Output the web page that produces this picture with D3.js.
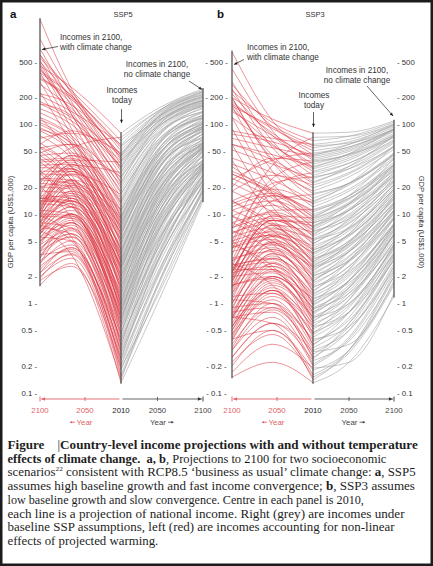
<!DOCTYPE html>
<html>
<head>
<meta charset="utf-8">
<script src="https://cdn.jsdelivr.net/npm/d3@7"></script>
<style>
html, body { margin: 0; padding: 0; background: #fff; }
svg { display: block; }
</style>
</head>
<body>
<script>
// Income per capita in 2010 (US$1,000), one entry per country (centre axis)
var income2010 = [
  0.13,0.15,0.16,0.18,0.2,0.21,0.23,0.25,0.27,0.3,
  0.32,0.35,0.38,0.42,0.45,0.48,0.52,0.56,0.6,0.64,
  0.68,0.72,0.76,0.8,0.85,0.9,0.95,0.98,1.05,1.1,
  1.2,1.25,1.3,1.4,1.5,1.6,1.7,1.8,1.9,2.0,
  2.1,2.2,2.4,2.5,2.6,2.7,2.8,2.95,3.1,3.3,
  3.5,3.7,3.9,4.1,4.4,4.7,5.0,5.3,5.6,6.0,
  6.3,6.7,7.0,7.4,7.8,8.2,8.6,9.0,9.4,9.8,
  10.5,11.2,12,13,14,15,16.5,18,19.5,21,
  23,25,27,29,30,32,34,36,38,40,
  42,44,46,48,51,55,60,66,72,80,
  0.14,0.19,0.24,0.29,0.34,0.4,0.46,0.55,0.62,0.7,
  0.78,0.88,1.0,1.15,1.35,1.55,1.75,2.05,2.3,2.55,
  2.9,3.2,3.6,4.0,4.6,5.2,5.8,6.5,7.2,8.0,
  9.0,11,13.5,17,22,26,33,39,45,58
];

// SSP5, no climate change (grey)
var ssp5Base2050 = [
  1.0,1.3,1.5,1.6,1.9,2.1,2.0,2.5,2.8,2.9,
  3.3,3.6,3.4,4.0,4.5,4.2,4.8,5.5,5.2,6.0,
  6.5,6.2,7.0,7.0,7.8,7.5,8.5,8.8,9.0,10,
  10,11,11,12,12,13,13,14,14,15,
  16,16,17,18,19,18,20,21,21,23,
  24,24,26,27,27,30,32,31,34,36,
  35,38,39,39,42,44,45,45,48,49,
  52,52,57,59,62,66,66,72,76,78,
  84,88,92,92,97,100,104,107,106,112,
  115,118,120,120,125,130,133,140,140,150,
  1.6,1.2,3.0,2.2,4.5,3.0,6.0,4.0,8.0,5.0,
  9.5,6.5,12,8.0,15,10,17,12,22,15,
  26,18,30,22,36,26,42,32,50,36,
  58,46,72,62,95,80,120,95,135,110
];
var ssp5Base2100 = [
  14,16,18,15,19,22,17,21,24,20,
  28,23,26,34,24,30,22,36,27,32,
  33,31,35,33,36,34,37,38,36,40,
  46,36,52,40,48,38,56,44,50,58,
  54,52,53,56,58,55,60,62,60,64,
  74,58,78,66,62,84,72,90,70,95,
  84,90,92,90,96,100,102,100,108,110,
  120,104,128,116,140,126,118,155,138,165,
  160,165,172,168,178,182,186,190,185,196,
  200,205,208,205,215,222,228,235,232,250,
  19,15,28,18,32,21,38,24,45,26,
  50,30,55,34,62,40,70,44,80,50,
  88,56,95,62,105,68,115,78,125,84,
  135,95,150,120,185,140,215,160,240,175
];

// SSP5, with climate change (red)
var ssp5Clim2065 = [
  2.8,3.2,3.8,3.5,4.0,5.0,3.6,4.5,6.0,4.2,
  5.5,7.0,5.0,6.0,9.0,5.6,6.5,9.0,6.0,7.5,
  10,7.0,13,8.0,12,8.5,9.5,13,9.0,14,
  10,18,10,15,11,20,12,17,12,13,
  24,19,14,20,27,14,22,45,15,24,
  33,16,27,60,17,30,42,18,32,75,
  20,50,36,21,55,90,40,22,60,42,
  65,24,110,48,75,130,28,85,140,60,
  160,100,180,35,170,150,110,200,40,210,
  190,120,250,80,230,210,140,240,55,260,
  3.5,2.6,5.5,4.2,8,5,10,6.8,12,8,
  15,9.5,18,14,21,14,24,16,28,24,
  30,23,32,34,34,32,36,38,70,30,
  60,62,45,130,125,45,220,85,165,200
];
var ssp5Clim2100 = [
  1.6,2.0,3.5,2.2,2.6,5.5,1.9,3.0,7.0,2.4,
  3.8,8.0,2.8,4.2,20,3.3,4.5,9.5,3.5,5.0,
  11,4.0,28,5.5,13,4.8,6.5,14,5.0,15,
  6.0,38,5.5,16,6.5,42,7.0,18,6.0,8.0,
  50,20,7.5,22,55,8.5,24,120,7.0,25,
  62,9.0,28,230,8.0,30,75,10,33,300,
  9.5,85,35,11,92,380,38,12,100,40,
  105,13,450,45,120,520,15,135,420,55,
  600,150,700,18,350,280,170,500,20,400,
  320,180,1500,70,600,380,210,550,30,450,
  6.5,1.8,9.5,2.2,3.8,7.5,4.5,2.8,15,3.2,
  6,10,7,30,8,14,9,15,10,45,
  11,20,12,56,11,24,13,28,112,10,
  48,88,16,480,170,22,900,60,220,330
];

// SSP3, no climate change (grey)
var ssp3Base2050 = [
  0.22,0.28,0.3,0.3,0.4,0.42,0.38,0.5,0.55,0.5,
  0.6,0.7,0.65,0.8,0.9,0.8,0.95,1.1,1.0,1.2,
  1.3,1.2,1.5,1.4,1.6,1.5,1.8,1.8,1.8,2.0,
  2.1,2.4,2.2,2.6,2.6,3.0,2.9,3.3,3.1,3.4,
  3.8,3.8,4.0,4.3,4.6,4.4,4.8,5.0,5.0,5.6,
  6.0,5.8,6.5,7.0,6.8,7.8,8.4,8.0,9.2,10,
  9.6,11,11.5,11,12.5,13,13.5,13,14.5,15,
  16,16,18,19,21,22,22,26,28,29,
  32,34,37,37,40,42,44,47,46,50,
  52,54,56,56,60,64,68,74,74,82,
  0.3,0.22,0.6,0.35,0.8,0.55,1.1,0.8,1.5,1.0,
  1.8,1.3,2.4,1.7,3.0,2.3,3.8,3.0,4.8,3.8,
  6.0,4.6,7.2,5.8,8.8,7.0,11,8.8,13,11,
  16,15,22,22,34,32,47,46,60,62
];
var ssp3Base2100 = [
  1.2,1.6,2.0,1.7,2.3,2.6,2.0,2.8,3.2,2.6,
  3.4,3.8,3.1,4.1,4.6,3.6,4.4,5.0,4.2,5.4,
  5.8,4.9,6.4,5.8,6.6,5.9,7.0,7.4,6.8,7.8,
  7.6,8.8,7.9,9.4,9.0,10.5,10,11,10.2,11,
  12,12,12.5,13.5,14.5,13.5,15,16,15,17,
  18,17,19,20,19,21,23,21,24,26,
  24,28,29,27,31,32,33,31,35,36,
  38,36,41,43,46,48,47,53,56,58,
  62,64,68,66,72,74,76,80,77,84,
  86,88,90,88,94,97,100,106,102,110,
  2.2,1.3,3.5,1.8,4.5,2.4,6.0,3.0,7.5,3.6,
  9.0,4.6,11,6.0,13,7.5,16,9.0,19,11,
  22,13,26,16,30,19,36,23,42,27,
  48,34,58,45,75,56,90,72,100,88
];

// SSP3, with climate change (red)
var ssp3Clim2055 = [
  0.22,0.45,0.5,0.5,0.7,0.8,0.6,0.9,1.0,0.85,
  1.1,1.3,1.0,1.4,1.6,1.2,1.5,1.9,1.4,1.8,
  2.2,1.7,2.6,2.0,2.6,2.0,2.4,2.9,2.3,3.1,
  2.6,3.8,2.8,3.8,3.2,4.6,3.6,4.6,3.6,4.0,
  5.6,5.2,4.5,5.8,6.5,4.8,6.3,9,5.0,7.0,
  8.0,5.6,7.8,12,6.0,9.0,10.5,6.8,10,17,
  7.5,13,12.5,8.5,15,22,14,9.5,17,16,
  19,11,30,19,24,38,14,29,45,27,
  55,36,65,20,60,58,46,75,25,80,
  75,55,110,40,95,90,70,105,35,115,
  0.6,0.35,1.0,0.6,1.4,0.9,1.9,1.3,2.4,1.6,
  2.8,2.0,3.4,2.4,4.0,3.2,4.8,4.2,5.6,5.0,
  6.5,5.8,7.5,7.5,8.5,8.5,9.5,10.5,16,8.5,
  17,18,16,40,40,22,85,42,64,95
];
var ssp3Clim2100 = [
  0.15,0.22,0.4,0.2,0.3,0.7,0.25,0.35,0.9,0.3,
  0.45,1.2,0.32,0.5,2.8,0.4,0.55,1.6,0.42,0.6,
  2.0,0.5,4.5,0.7,2.2,0.55,0.8,2.5,0.65,2.7,
  0.75,6.5,0.7,3.2,0.9,8.0,1.0,3.8,0.85,1.2,
  9.5,4.2,1.1,4.6,11,1.4,5.0,40,1.3,5.5,
  14,1.6,6.2,60,1.5,7.0,18,1.8,8.0,90,
  1.7,22,9.5,2.2,25,120,11,2.0,28,12,
  30,2.6,160,14,36,200,3.0,42,170,18,
  250,52,300,4.0,150,120,60,220,5.0,180,
  140,70,650,24,280,170,85,240,7.0,200,
  0.7,0.17,1.1,0.25,0.55,0.8,0.7,0.38,2.4,0.45,
  1.0,1.6,1.3,5.0,1.5,2.6,1.8,3.0,2.0,9.5,
  1.9,4.2,2.4,14,2.2,6.0,2.8,7.0,34,2.3,
  13,28,3.5,200,60,4.5,420,20,78,160
];

var yTickValues = [0.1, 0.2, 0.5, 1, 2, 5, 10, 20, 50, 100, 200, 500];
var yearTicks = [2010, 2050, 2100];

var red = "#da3641";
var redAxis = "#e2606a";
var grey = "#9f9f9f";
var ink = "#333";
var sans = "'Liberation Sans', Arial, sans-serif";

var svg = d3.select("body").append("svg")
    .attr("width", 433)
    .attr("height", 566);

svg.append("rect")
    .attr("x", 1.25).attr("y", 1.25)
    .attr("width", 430.5).attr("height", 563.5)
    .attr("fill", "#fff")
    .attr("stroke", "#1c1c1c")
    .attr("stroke-width", 2.5);

var y = d3.scaleLog().domain([0.1, 1000]).range([393, 35]);

var line = d3.line()
    .x(function(d) { return d[0]; })
    .y(function(d) { return d[1]; })
    .curve(d3.curveMonotoneX);

var panels = [
    {letter: "a", title: "SSP5", left: 40, mid: 121, right: 203,
     base50: ssp5Base2050, base100: ssp5Base2100,
     climMid: ssp5Clim2065, climYear: 2065, clim100: ssp5Clim2100},
    {letter: "b", title: "SSP3", left: 232, mid: 313, right: 394,
     base50: ssp3Base2050, base100: ssp3Base2100,
     climMid: ssp3Clim2055, climYear: 2055, clim100: ssp3Clim2100}
];

function arrowHead(g, x, yy, dir, color, size) {
    // small filled triangle, tip at (x, yy), pointing along dir (degrees)
    var s = size || 3.2;
    g.append("path")
        .attr("d", "M0,0 L" + (-s * 1.5) + "," + (-s * 0.7) + " L" + (-s * 1.5) + "," + (s * 0.7) + "Z")
        .attr("transform", "translate(" + x + "," + yy + ") rotate(" + dir + ")")
        .attr("fill", color);
}

panels.forEach(function(p) {
    var xr = d3.scaleLinear().domain([2010, 2100]).range([p.mid, p.left]);
    var xg = d3.scaleLinear().domain([2010, 2100]).range([p.mid, p.right]);
    var g = svg.append("g");

    // grey lines: baseline projections
    g.append("g").selectAll("path")
        .data(income2010)
        .enter()
        .append("path")
        .attr("d", function(d, i) {
            return line([[xg(2010), y(d)], [xg(2050), y(p.base50[i])], [xg(2100), y(p.base100[i])]]);
        })
        .attr("fill", "none")
        .attr("stroke", grey)
        .attr("stroke-opacity", 0.75)
        .attr("stroke-width", 0.75);

    // red lines: with climate change
    g.append("g").selectAll("path")
        .data(income2010)
        .enter()
        .append("path")
        .attr("d", function(d, i) {
            return line([[xr(2100), y(p.clim100[i])], [xr(p.climYear), y(p.climMid[i])], [xr(2010), y(d)]]);
        })
        .attr("fill", "none")
        .attr("stroke", red)
        .attr("stroke-opacity", 0.7)
        .attr("stroke-width", 0.75);

    // vertical axes spanning the data
    var ext = [d3.extent(p.clim100), d3.extent(income2010), d3.extent(p.base100)];
    [p.left, p.mid, p.right].forEach(function(xx, k) {
        g.append("line")
            .attr("x1", xx).attr("x2", xx)
            .attr("y1", y(ext[k][1]) - 1).attr("y2", y(ext[k][0]) + 1)
            .attr("stroke", "#555")
            .attr("stroke-width", 1.3);
    });

    // panel letter and scenario title
    g.append("text")
        .attr("x", p.letter == "a" ? 10 : 217).attr("y", 18)
        .attr("font-family", sans).attr("font-weight", "bold")
        .attr("font-size", "11.5px").attr("fill", "#111")
        .text(p.letter);
    g.append("text")
        .attr("x", p.mid + 2).attr("y", 17)
        .attr("text-anchor", "middle")
        .attr("font-family", sans).attr("font-size", "7.5px").attr("fill", ink)
        .text(p.title);

    // bottom year axis
    var ay = 399;
    g.append("line").attr("x1", p.left + 1).attr("x2", p.mid - 1.5)
        .attr("y1", ay).attr("y2", ay).attr("stroke", redAxis).attr("stroke-width", 0.9);
    g.append("line").attr("x1", p.mid + 1.5).attr("x2", p.right - 1)
        .attr("y1", ay).attr("y2", ay).attr("stroke", "#555").attr("stroke-width", 0.9);
    arrowHead(g, p.left + 1.5, ay, 180, redAxis, 2.4);
    arrowHead(g, p.right - 1.5, ay, 0, "#333", 2.4);
    g.append("line").attr("x1", p.left).attr("x2", p.left)
        .attr("y1", ay - 2.5).attr("y2", ay + 2.5).attr("stroke", redAxis).attr("stroke-width", 0.9);
    g.append("line").attr("x1", p.right).attr("x2", p.right)
        .attr("y1", ay - 2.5).attr("y2", ay + 2.5).attr("stroke", "#333").attr("stroke-width", 0.9);
    g.append("line").attr("x1", xr(2050)).attr("x2", xr(2050))
        .attr("y1", ay - 2).attr("y2", ay + 2).attr("stroke", redAxis).attr("stroke-width", 0.9);
    g.append("line").attr("x1", xg(2050)).attr("x2", xg(2050))
        .attr("y1", ay - 2).attr("y2", ay + 2).attr("stroke", "#555").attr("stroke-width", 0.9);

    yearTicks.forEach(function(yr) {
        if (yr == 2010) {
            g.append("text").attr("x", xr(yr)).attr("y", 413)
                .attr("text-anchor", "middle").attr("font-family", sans)
                .attr("font-size", "7.8px").attr("fill", "#222").text(yr);
        } else {
            g.append("text").attr("x", xr(yr)).attr("y", 413)
                .attr("text-anchor", "middle").attr("font-family", sans)
                .attr("font-size", "7.8px").attr("fill", redAxis).text(yr);
            g.append("text").attr("x", xg(yr)).attr("y", 413)
                .attr("text-anchor", "middle").attr("font-family", sans)
                .attr("font-size", "7.8px").attr("fill", "#444").text(yr);
        }
    });

    // "Year" labels with small arrows
    var rx = (p.left + p.mid) / 2;
    var gx = (p.mid + p.right) / 2 + 1;
    g.append("text").attr("x", rx + 4).attr("y", 425)
        .attr("text-anchor", "middle").attr("font-family", sans)
        .attr("font-size", "7.8px").attr("fill", redAxis).text("Year");
    g.append("line").attr("x1", rx - 10).attr("x2", rx - 5.5)
        .attr("y1", 422.2).attr("y2", 422.2).attr("stroke", redAxis).attr("stroke-width", 0.8);
    arrowHead(g, rx - 11, 422.2, 180, redAxis, 1.8);
    g.append("text").attr("x", gx - 5).attr("y", 425)
        .attr("text-anchor", "middle").attr("font-family", sans)
        .attr("font-size", "7.8px").attr("fill", "#444").text("Year");
    g.append("line").attr("x1", gx + 5).attr("x2", gx + 10)
        .attr("y1", 422.2).attr("y2", 422.2).attr("stroke", "#444").attr("stroke-width", 0.8);
    arrowHead(g, gx + 11, 422.2, 0, "#444", 1.8);
});

// y tick labels
function fmt(v) { return v < 1 ? String(v) : d3.format("d")(v); }

var ticks = svg.append("g")
    .attr("font-family", sans)
    .attr("font-size", "7.8px")
    .attr("fill", ink);

yTickValues.forEach(function(v) {
    ticks.append("text").attr("x", 37).attr("y", y(v) + 2.8)
        .attr("text-anchor", "end").text(fmt(v) + " -");
    ticks.append("text").attr("x", 216.5).attr("y", y(v) + 2.8)
        .attr("text-anchor", "middle").text("- " + fmt(v) + " -");
    ticks.append("text").attr("x", 397).attr("y", y(v) + 2.8)
        .attr("text-anchor", "start").text("- " + fmt(v));
});

// axis titles
svg.append("text")
    .attr("transform", "translate(13,222) rotate(-90)")
    .attr("text-anchor", "middle").attr("font-family", sans)
    .attr("font-size", "7.6px").attr("fill", ink)
    .text("GDP per capita (US$1,000)");
svg.append("text")
    .attr("transform", "translate(419,222) rotate(90)")
    .attr("text-anchor", "middle").attr("font-family", sans)
    .attr("font-size", "7.6px").attr("fill", ink)
    .text("GDP per capita (US$1,000)");

// annotations
var notes = [
    {x: 60, y: 40, anchor: "start", lines: ["Incomes in 2100,", "with climate change"]},
    {x: 157, y: 67, anchor: "middle", lines: ["Incomes in 2100,", "no climate change"]},
    {x: 122, y: 93, anchor: "middle", lines: ["Incomes", "today"]},
    {x: 247, y: 50, anchor: "start", lines: ["Incomes in 2100,", "with climate change"]},
    {x: 357, y: 73, anchor: "middle", lines: ["Incomes in 2100,", "no climate change"]},
    {x: 314, y: 98, anchor: "middle", lines: ["Incomes", "today"]}
];
notes.forEach(function(n) {
    var t = svg.append("text")
        .attr("x", n.x).attr("y", n.y)
        .attr("text-anchor", n.anchor)
        .attr("font-family", sans).attr("font-size", "8.2px").attr("fill", ink);
    n.lines.forEach(function(s, i) {
        t.append("tspan").attr("x", n.x).attr("dy", i == 0 ? 0 : 10).text(s);
    });
});

var pointers = [
    [58, 46.5, 42, 49.5],
    [189, 81, 202, 89.5],
    [121.5, 109, 121.5, 123],
    [244, 59.5, 234, 64.5],
    [367, 86, 393, 116],
    [313.5, 112, 313.5, 127]
];
pointers.forEach(function(a) {
    svg.append("line")
        .attr("x1", a[0]).attr("y1", a[1]).attr("x2", a[2]).attr("y2", a[3])
        .attr("stroke", "#222").attr("stroke-width", 0.7);
    var ang = Math.atan2(a[3] - a[1], a[2] - a[0]) * 180 / Math.PI;
    arrowHead(svg, a[2], a[3], ang, "#222", 2.2);
});

// caption
var captionLines = [
    {w: 419, parts: [["Figure", true], ["    |", false], ["Country-level income projections with and without temperature", true]]},
    {w: 368, parts: [["effects of climate change.  a, b", true], [", Projections to 2100 for two socioeconomic", false]]},
    {w: 411, parts: [["scenarios", false], ["22", false, "sup"], [" consistent with RCP8.5 \u2018business as usual\u2019 climate change: ", false], ["a", true], [", SSP5", false]]},
    {w: 415, parts: [["assumes high baseline growth and fast income convergence; ", false], ["b", true], [", SSP3 assumes", false]]},
    {w: 337, parts: [["low baseline growth and slow convergence. Centre in each panel is 2010,", false]]},
    {w: 406, parts: [["each line is a projection of national income. Right (grey) are incomes under", false]]},
    {w: 391, parts: [["baseline SSP assumptions, left (red) are incomes accounting for non-linear", false]]},
    {w: 119, parts: [["effects of projected warming.", false]]}
];

var capTexts = [];
var ratios = [];
captionLines.forEach(function(c, i) {
    var t = svg.append("text")
        .attr("x", 0).attr("y", 0)
        .attr("font-family", "'Liberation Serif', 'Times New Roman', serif")
        .attr("font-size", "12.4px")
        .attr("fill", "#1e1e1e")
        .style("white-space", "pre");
    var afterSup = false;
    c.parts.forEach(function(pt) {
        var ts = t.append("tspan").text(pt[0]);
        if (pt[1]) ts.attr("font-weight", "bold");
        if (pt[2] == "sup") {
            ts.attr("font-size", "7px").attr("dy", -5);
            afterSup = true;
        } else if (afterSup) {
            ts.attr("dy", 5);
            afterSup = false;
        }
    });
    capTexts.push(t);
    ratios.push(c.w / t.node().getComputedTextLength());
});
// a common squeeze, nudged halfway toward each line's own fit
var sx = d3.mean(ratios.slice(0, 7));
capTexts.forEach(function(t, i) {
    var s = i < 7 ? (sx + ratios[i]) / 2 : sx;
    t.attr("transform", "translate(7.5," + (449 + i * 13.7) + ") scale(" + s + ",1)");
});
</script>
</body>
</html>
